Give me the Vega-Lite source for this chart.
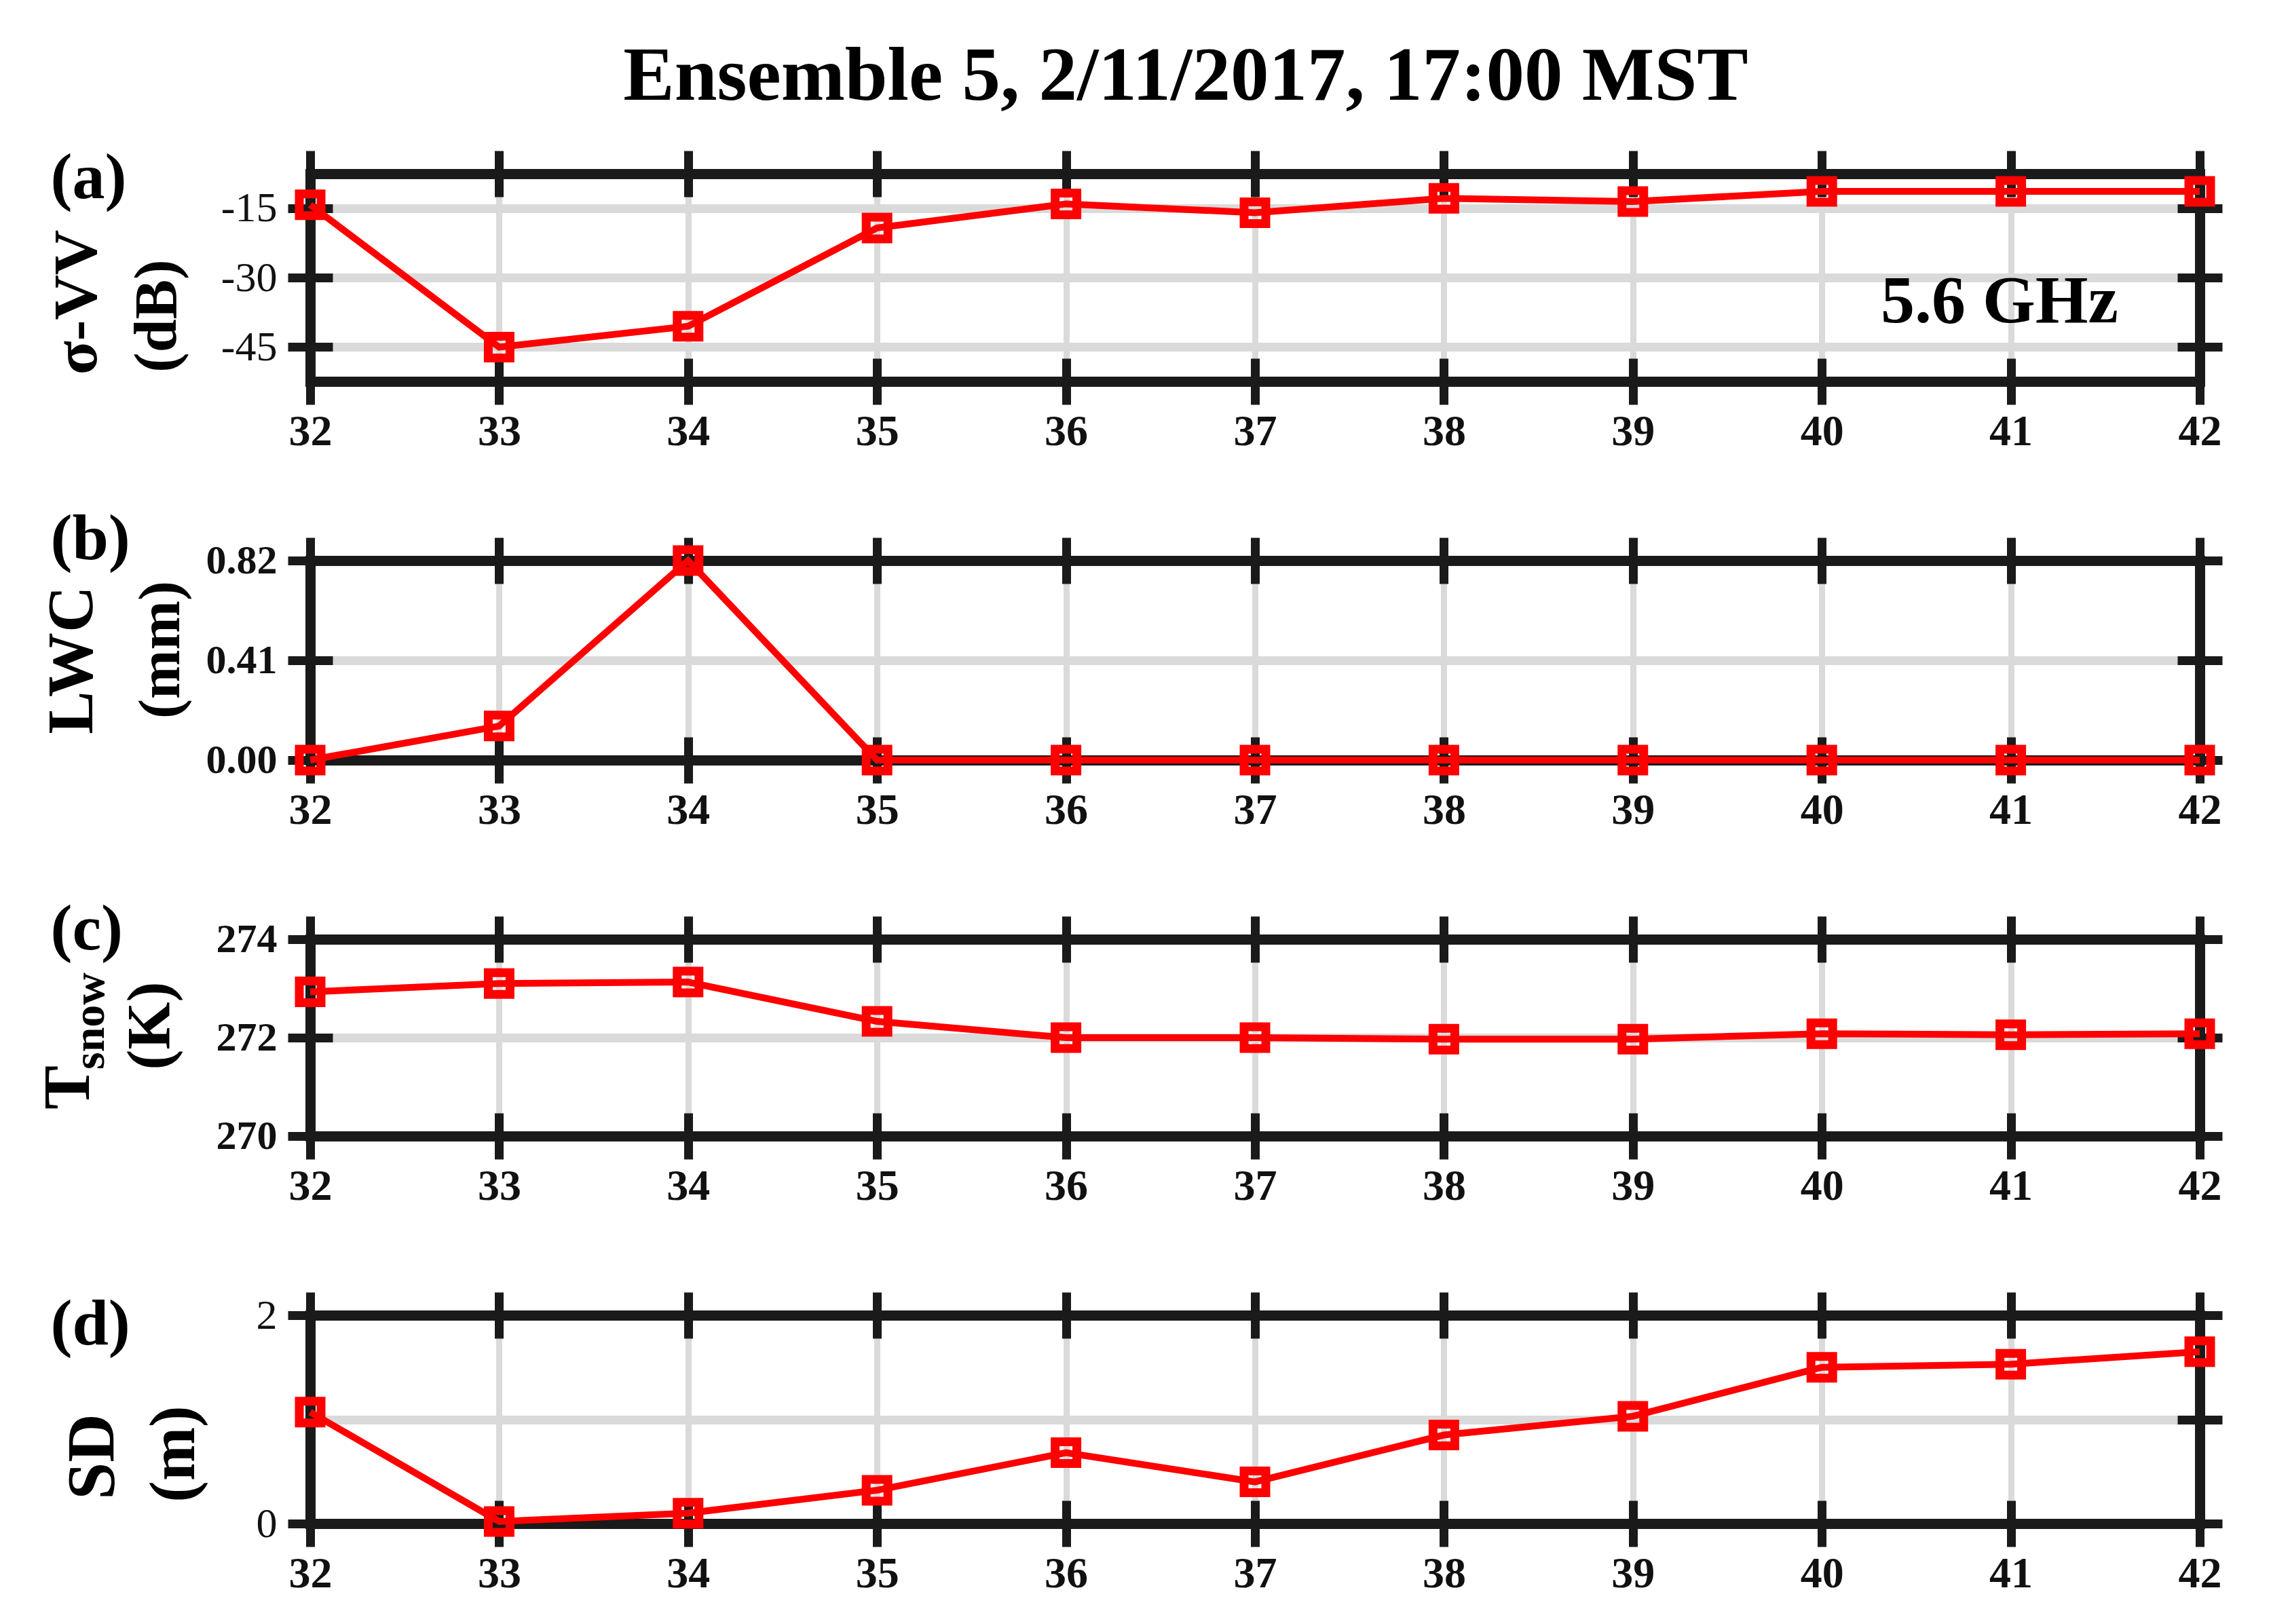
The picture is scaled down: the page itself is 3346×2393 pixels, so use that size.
{
  "$schema": "https://vega.github.io/schema/vega-lite/v6.json",
  "autosize": {"type": "pad"},
  "padding": {"left": 52, "top": 57, "right": 10, "bottom": 10},
  "background": "white",
  "title": {"text": "Ensemble 5, 2/11/2017, 17:00 MST", "anchor": "middle", "frame": "group", "fontSize": 113, "font": "Liberation Serif", "fontWeight": "bold", "color": "#000000", "baseline": "alphabetic", "offset": 0, "dx": -102, "dy": 46},
  "datasets": {
    "a": [{"x": 32, "v": -14.3}, {"x": 33, "v": -45.0}, {"x": 34, "v": -40.5}, {"x": 35, "v": -19.3}, {"x": 36, "v": -14.1}, {"x": 37, "v": -16.0}, {"x": 38, "v": -12.9}, {"x": 39, "v": -13.6}, {"x": 40, "v": -11.4}, {"x": 41, "v": -11.4}, {"x": 42, "v": -11.4}],
    "b": [{"x": 32, "v": 0}, {"x": 33, "v": 0.14}, {"x": 34, "v": 0.82}, {"x": 35, "v": 0}, {"x": 36, "v": 0}, {"x": 37, "v": 0}, {"x": 38, "v": 0}, {"x": 39, "v": 0}, {"x": 40, "v": 0}, {"x": 41, "v": 0}, {"x": 42, "v": 0}],
    "c": [{"x": 32, "v": 272.93}, {"x": 33, "v": 273.1}, {"x": 34, "v": 273.13}, {"x": 35, "v": 272.33}, {"x": 36, "v": 272.0}, {"x": 37, "v": 272.0}, {"x": 38, "v": 271.97}, {"x": 39, "v": 271.97}, {"x": 40, "v": 272.08}, {"x": 41, "v": 272.06}, {"x": 42, "v": 272.08}],
    "d": [{"x": 32, "v": 1.07}, {"x": 33, "v": 0.02}, {"x": 34, "v": 0.1}, {"x": 35, "v": 0.32}, {"x": 36, "v": 0.68}, {"x": 37, "v": 0.4}, {"x": 38, "v": 0.85}, {"x": 39, "v": 1.03}, {"x": 40, "v": 1.5}, {"x": 41, "v": 1.53}, {"x": 42, "v": 1.65}]
  },
  "spacing": 264,
  "bounds": "flush",
  "vconcat": [
    {
      "width": 2784, "height": 306,
      "data": {"name": "a"},
      "resolve": {"axis": {"x": "independent", "y": "independent"}},
      "layer": [
        {"mark": {"type": "point", "opacity": 0},
         "encoding": {
          "x": {"field": "x", "type": "quantitative", "scale": {"domain": [32, 42], "nice": false, "zero": false},
                "axis": {"orient": "bottom", "values": [32,33,34,35,36,37,38,39,40,41,42], "grid": true, "gridWidth": 9, "ticks": false, "labels": false, "domain": false, "title": null}},
          "y": {"field": "v", "type": "quantitative", "scale": {"domain": [-52.4, -7.6], "nice": false, "zero": false},
                "axis": {"orient": "left", "values": [-45, -30, -15], "grid": true, "gridWidth": 13, "ticks": false, "labels": false, "domain": false, "title": "σ-VV", "titleX": -344, "titleY": 189, "titleFontSize": 92}}}},
        {"mark": {"type": "point", "opacity": 0},
         "encoding": {
          "x": {"field": "x", "type": "quantitative",
                "axis": {"orient": "bottom", "values": [32,33,34,35,36,37,38,39,40,41,42], "offset": -34, "tickSize": 68, "grid": false, "domain": false, "labelFontSize": 64, "labelFontWeight": "bold", "labelPadding": 8, "format": "d", "title": null}},
          "y": {"field": "v", "type": "quantitative",
                "axis": {"orient": "left", "values": [-45, -30, -15], "offset": -33, "tickSize": 66, "grid": false, "domain": false, "labelFontSize": 62, "labelPadding": 16, "labelExpr": "toString(datum.value)", "title": "(dB)", "titleX": -258, "titleY": 209, "titleFontSize": 88}}}},
        {"mark": {"type": "point", "opacity": 0},
         "encoding": {
          "x": {"field": "x", "type": "quantitative",
                "axis": {"orient": "top", "values": [32,33,34,35,36,37,38,39,40,41,42], "offset": -34, "tickSize": 68, "grid": false, "domain": false, "labels": false, "title": null}},
          "y": {"field": "v", "type": "quantitative",
                "axis": {"orient": "right", "values": [-45, -30, -15], "offset": -33, "tickSize": 66, "grid": false, "domain": false, "labels": false, "title": null}}}},
        {"mark": {"type": "point", "opacity": 0},
         "encoding": {
          "x": {"field": "x", "type": "quantitative",
                "axis": {"orient": "bottom", "grid": false, "domain": true, "ticks": false, "labels": false, "title": null}},
          "y": {"field": "v", "type": "quantitative",
                "axis": {"orient": "left", "grid": false, "domain": true, "ticks": false, "labels": false, "title": null}}}},
        {"mark": {"type": "point", "opacity": 0},
         "encoding": {
          "x": {"field": "x", "type": "quantitative",
                "axis": {"orient": "top", "grid": false, "domain": true, "ticks": false, "labels": false, "title": "(a)", "titleX": -383, "titleY": 35, "titleAngle": 0, "titleAlign": "left", "titleBaseline": "alphabetic", "titleFontSize": 96}},
          "y": {"field": "v", "type": "quantitative",
                "axis": {"orient": "right", "grid": false, "domain": true, "ticks": false, "labels": false, "title": null}}}},
        {"mark": {"type": "line", "color": "#ff0000", "strokeWidth": 10, "point": {"shape": "square", "filled": false, "size": 1024, "strokeWidth": 13, "color": "#ff0000"}},
         "encoding": {
          "x": {"field": "x", "type": "quantitative", "axis": null},
          "y": {"field": "v", "type": "quantitative", "axis": null}}},
        {"data": {"values": [{}]},
         "mark": {"type": "text", "text": "5.6 GHz", "font": "Liberation Serif", "fontWeight": "bold", "fontSize": 100, "align": "center", "baseline": "alphabetic", "color": "#000000"},
         "encoding": {
          "x": {"datum": 40.94, "type": "quantitative", "axis": null},
          "y": {"datum": -39.6, "type": "quantitative", "axis": null}}}
      ]
    },
    {
      "width": 2784, "height": 294,
      "data": {"name": "b"},
      "resolve": {"axis": {"x": "independent", "y": "independent"}},
      "layer": [
        {"mark": {"type": "point", "opacity": 0},
         "encoding": {
          "x": {"field": "x", "type": "quantitative", "scale": {"domain": [32, 42], "nice": false, "zero": false},
                "axis": {"orient": "bottom", "values": [32,33,34,35,36,37,38,39,40,41,42], "grid": true, "gridWidth": 9, "ticks": false, "labels": false, "domain": false, "title": null}},
          "y": {"field": "v", "type": "quantitative", "scale": {"domain": [0, 0.82], "nice": false, "zero": false},
                "axis": {"orient": "left", "values": [0, 0.41, 0.82], "grid": true, "gridWidth": 13, "ticks": false, "labels": false, "domain": false, "title": "LWC", "titleX": -351, "titleY": 146, "titleFontSize": 95}}}},
        {"mark": {"type": "point", "opacity": 0},
         "encoding": {
          "x": {"field": "x", "type": "quantitative",
                "axis": {"orient": "bottom", "values": [32,33,34,35,36,37,38,39,40,41,42], "offset": -34, "tickSize": 68, "grid": false, "domain": false, "labelFontSize": 64, "labelFontWeight": "bold", "labelPadding": 8, "format": "d", "title": null}},
          "y": {"field": "v", "type": "quantitative",
                "axis": {"orient": "left", "values": [0, 0.41, 0.82], "offset": -33, "tickSize": 66, "grid": false, "domain": false, "labelFontSize": 60, "labelFontWeight": "bold", "labelPadding": 16, "format": ".2f", "title": "(mm)", "titleX": -253, "titleY": 131, "titleFontSize": 87}}}},
        {"mark": {"type": "point", "opacity": 0},
         "encoding": {
          "x": {"field": "x", "type": "quantitative",
                "axis": {"orient": "top", "values": [32,33,34,35,36,37,38,39,40,41,42], "offset": -34, "tickSize": 68, "grid": false, "domain": false, "labels": false, "title": null}},
          "y": {"field": "v", "type": "quantitative",
                "axis": {"orient": "right", "values": [0, 0.41, 0.82], "offset": -33, "tickSize": 66, "grid": false, "domain": false, "labels": false, "title": null}}}},
        {"mark": {"type": "point", "opacity": 0},
         "encoding": {
          "x": {"field": "x", "type": "quantitative",
                "axis": {"orient": "bottom", "grid": false, "domain": true, "ticks": false, "labels": false, "title": null}},
          "y": {"field": "v", "type": "quantitative",
                "axis": {"orient": "left", "grid": false, "domain": true, "ticks": false, "labels": false, "title": null}}}},
        {"mark": {"type": "point", "opacity": 0},
         "encoding": {
          "x": {"field": "x", "type": "quantitative",
                "axis": {"orient": "top", "grid": false, "domain": true, "ticks": false, "labels": false, "title": "(b)", "titleX": -383, "titleY": -3, "titleAngle": 0, "titleAlign": "left", "titleBaseline": "alphabetic", "titleFontSize": 96}},
          "y": {"field": "v", "type": "quantitative",
                "axis": {"orient": "right", "grid": false, "domain": true, "ticks": false, "labels": false, "title": null}}}},
        {"mark": {"type": "line", "color": "#ff0000", "strokeWidth": 10, "point": {"shape": "square", "filled": false, "size": 1024, "strokeWidth": 13, "color": "#ff0000"}},
         "encoding": {
          "x": {"field": "x", "type": "quantitative", "axis": null},
          "y": {"field": "v", "type": "quantitative", "axis": null}}}
      ]
    },
    {
      "width": 2784, "height": 290,
      "data": {"name": "c"},
      "resolve": {"axis": {"x": "independent", "y": "independent"}},
      "layer": [
        {"mark": {"type": "point", "opacity": 0},
         "encoding": {
          "x": {"field": "x", "type": "quantitative", "scale": {"domain": [32, 42], "nice": false, "zero": false},
                "axis": {"orient": "bottom", "values": [32,33,34,35,36,37,38,39,40,41,42], "grid": true, "gridWidth": 9, "ticks": false, "labels": false, "domain": false, "title": null}},
          "y": {"field": "v", "type": "quantitative", "scale": {"domain": [270, 274], "nice": false, "zero": false},
                "axis": {"orient": "left", "values": [270, 272, 274], "grid": true, "gridWidth": 13, "ticks": false, "labels": false, "domain": false, "title": "T", "titleX": -356, "titleY": 218, "titleFontSize": 97}}}},
        {"mark": {"type": "point", "opacity": 0},
         "encoding": {
          "x": {"field": "x", "type": "quantitative",
                "axis": {"orient": "bottom", "values": [32,33,34,35,36,37,38,39,40,41,42], "offset": -34, "tickSize": 68, "grid": false, "domain": false, "labelFontSize": 64, "labelFontWeight": "bold", "labelPadding": 8, "format": "d", "title": null}},
          "y": {"field": "v", "type": "quantitative",
                "axis": {"orient": "left", "values": [270, 272, 274], "offset": -33, "tickSize": 66, "grid": false, "domain": false, "labelFontSize": 60, "labelFontWeight": "bold", "labelPadding": 16, "format": "d", "title": "(K)", "titleX": -268, "titleY": 127, "titleFontSize": 90}}}},
        {"mark": {"type": "point", "opacity": 0},
         "encoding": {
          "x": {"field": "x", "type": "quantitative",
                "axis": {"orient": "top", "values": [32,33,34,35,36,37,38,39,40,41,42], "offset": -34, "tickSize": 68, "grid": false, "domain": false, "labels": false, "title": null}},
          "y": {"field": "v", "type": "quantitative",
                "axis": {"orient": "right", "values": [270, 272, 274], "offset": -33, "tickSize": 66, "grid": false, "domain": false, "labels": false, "title": null}}}},
        {"mark": {"type": "point", "opacity": 0},
         "encoding": {
          "x": {"field": "x", "type": "quantitative",
                "axis": {"orient": "bottom", "grid": false, "domain": true, "ticks": false, "labels": false, "title": null}},
          "y": {"field": "v", "type": "quantitative",
                "axis": {"orient": "left", "grid": false, "domain": true, "ticks": false, "labels": false, "title": "snow", "titleX": -325, "titleY": 120, "titleFontSize": 66}}}},
        {"mark": {"type": "point", "opacity": 0},
         "encoding": {
          "x": {"field": "x", "type": "quantitative",
                "axis": {"orient": "top", "grid": false, "domain": true, "ticks": false, "labels": false, "title": "(c)", "titleX": -383, "titleY": 14, "titleAngle": 0, "titleAlign": "left", "titleBaseline": "alphabetic", "titleFontSize": 96}},
          "y": {"field": "v", "type": "quantitative",
                "axis": {"orient": "right", "grid": false, "domain": true, "ticks": false, "labels": false, "title": null}}}},
        {"mark": {"type": "line", "color": "#ff0000", "strokeWidth": 10, "point": {"shape": "square", "filled": false, "size": 1024, "strokeWidth": 13, "color": "#ff0000"}},
         "encoding": {
          "x": {"field": "x", "type": "quantitative", "axis": null},
          "y": {"field": "v", "type": "quantitative", "axis": null}}}
      ]
    },
    {
      "width": 2784, "height": 307,
      "data": {"name": "d"},
      "resolve": {"axis": {"x": "independent", "y": "independent"}},
      "layer": [
        {"mark": {"type": "point", "opacity": 0},
         "encoding": {
          "x": {"field": "x", "type": "quantitative", "scale": {"domain": [32, 42], "nice": false, "zero": false},
                "axis": {"orient": "bottom", "values": [32,33,34,35,36,37,38,39,40,41,42], "grid": true, "gridWidth": 9, "ticks": false, "labels": false, "domain": false, "title": null}},
          "y": {"field": "v", "type": "quantitative", "scale": {"domain": [0, 2], "nice": false, "zero": false},
                "axis": {"orient": "left", "values": [0, 1, 2], "grid": true, "gridWidth": 13, "ticks": false, "labels": false, "domain": false, "title": "SD", "titleX": -321, "titleY": 208, "titleFontSize": 99}}}},
        {"mark": {"type": "point", "opacity": 0},
         "encoding": {
          "x": {"field": "x", "type": "quantitative",
                "axis": {"orient": "bottom", "values": [32,33,34,35,36,37,38,39,40,41,42], "offset": -34, "tickSize": 68, "grid": false, "domain": false, "labelFontSize": 64, "labelFontWeight": "bold", "labelPadding": 8, "format": "d", "title": null}},
          "y": {"field": "v", "type": "quantitative",
                "axis": {"orient": "left", "values": [0, 1, 2], "offset": -33, "tickSize": 66, "grid": false, "domain": false, "labelFontSize": 62, "labelPadding": 16, "format": "d", "title": "(m)", "titleX": -234, "titleY": 204, "titleFontSize": 95}}}},
        {"mark": {"type": "point", "opacity": 0},
         "encoding": {
          "x": {"field": "x", "type": "quantitative",
                "axis": {"orient": "top", "values": [32,33,34,35,36,37,38,39,40,41,42], "offset": -34, "tickSize": 68, "grid": false, "domain": false, "labels": false, "title": null}},
          "y": {"field": "v", "type": "quantitative",
                "axis": {"orient": "right", "values": [0, 1, 2], "offset": -33, "tickSize": 66, "grid": false, "domain": false, "labels": false, "title": null}}}},
        {"mark": {"type": "point", "opacity": 0},
         "encoding": {
          "x": {"field": "x", "type": "quantitative",
                "axis": {"orient": "bottom", "grid": false, "domain": true, "ticks": false, "labels": false, "title": null}},
          "y": {"field": "v", "type": "quantitative",
                "axis": {"orient": "left", "grid": false, "domain": true, "ticks": false, "labels": false, "title": null}}}},
        {"mark": {"type": "point", "opacity": 0},
         "encoding": {
          "x": {"field": "x", "type": "quantitative",
                "axis": {"orient": "top", "grid": false, "domain": true, "ticks": false, "labels": false, "title": "(d)", "titleX": -383, "titleY": 42, "titleAngle": 0, "titleAlign": "left", "titleBaseline": "alphabetic", "titleFontSize": 96}},
          "y": {"field": "v", "type": "quantitative",
                "axis": {"orient": "right", "grid": false, "domain": true, "ticks": false, "labels": false, "title": null}}}},
        {"mark": {"type": "line", "color": "#ff0000", "strokeWidth": 10, "point": {"shape": "square", "filled": false, "size": 1024, "strokeWidth": 13, "color": "#ff0000"}},
         "encoding": {
          "x": {"field": "x", "type": "quantitative", "axis": null},
          "y": {"field": "v", "type": "quantitative", "axis": null}}}
      ]
    }
  ],
  "config": {
    "font": "Liberation Serif",
    "view": {"stroke": null},
    "axis": {
      "labelFont": "Liberation Serif", "titleFont": "Liberation Serif", "titleFontWeight": "bold",
      "labelColor": "#111111", "titleColor": "#000000", "tickColor": "#1a1a1a", "domainColor": "#1a1a1a",
      "gridColor": "#dadada", "gridOpacity": 1, "tickWidth": 13, "domainWidth": 15, "domainCap": "square",
      "labelFlush": false, "labelOverlap": false, "labelBound": false, "tickCap": "butt"
    },
    "axisY": {"titleAngle": -90, "titleAlign": "center", "titleBaseline": "middle"}
  }
}
